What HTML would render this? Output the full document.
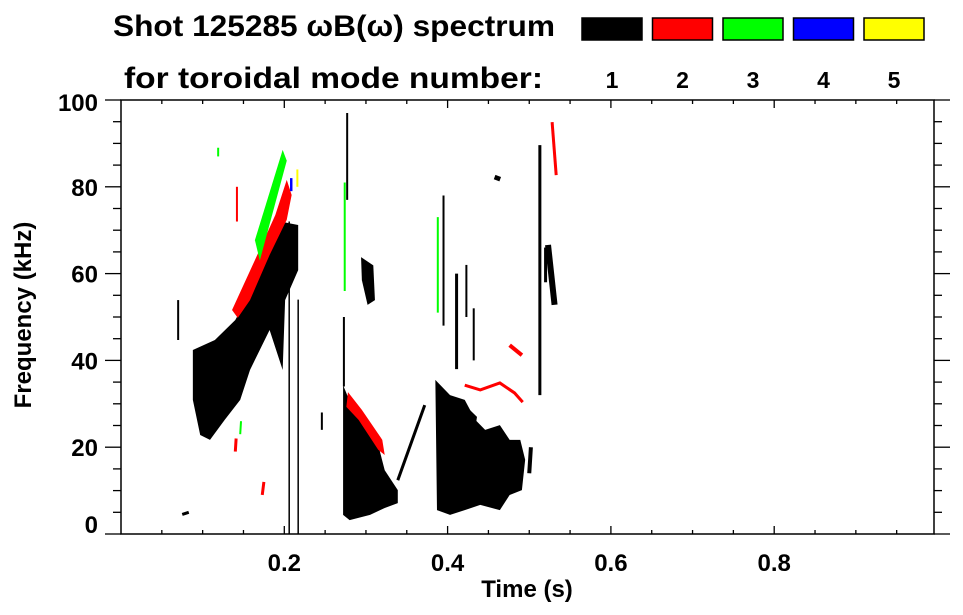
<!DOCTYPE html>
<html><head><meta charset="utf-8"><style>
html,body{margin:0;padding:0;background:#fff;}
svg{display:block;font-family:"Liberation Sans",sans-serif;font-weight:bold;}
</style></head><body>
<svg id="chart" width="963" height="615" viewBox="0 0 963 615" xmlns="http://www.w3.org/2000/svg">
<g>
<text x="113" y="36" font-size="30" textLength="442" lengthAdjust="spacingAndGlyphs">Shot 125285 ωB(ω) spectrum</text>
<text x="124" y="88" font-size="30" textLength="419" lengthAdjust="spacingAndGlyphs">for toroidal mode number:</text>
</g>
<g id="legend"></g>
<g id="marks"></g>
<g id="axes"></g>
<text x="527" y="597" font-size="24" text-anchor="middle">Time (s)</text>
<text transform="translate(31,315) rotate(-90)" font-size="24" text-anchor="middle">Frequency (kHz)</text>
</svg>
<script>
const modeNumbers = ["1","2","3","4","5"];
const modeColors = ["#000000","#ff0000","#00ff00","#0000ff","#ffff00"];
const xTicks = [0.2,0.4,0.6,0.8];
const xTickLabels = ["0.2","0.4","0.6","0.8"];
const yTicks = [0,20,40,60,80,100];
const yTickLabels = ["0","20","40","60","80","100"];
// blobs: [mode index, [[t,f],...]]
const blobMode = [0,1,2,0,0,1,0,0,3];
const blobPoints = [
 [[.088,42.4],[.115,44.7],[.140,49.3],[.170,59.7],[.198,71.9],[.217,71.2],[.217,60.8],[.201,53.9],[.198,37.8],[.182,47.0],[.158,37.8],[.146,30.9],[.127,26.3],[.109,21.7],[.097,22.8],[.088,30.9]],
 [[.136,51.6],[.164,63.1],[.189,73.5],[.203,81.6],[.209,78.1],[.203,72.4],[.182,64.3],[.158,53.9],[.143,49.8]],
 [[.164,67.7],[.198,88.5],[.203,86],[.170,63]],
 [[.272,34.3],[.287,27.4],[.305,24.0],[.315,20.5],[.323,14.7],[.339,10.1],[.339,7.1],[.323,6.0],[.305,4.4],[.280,3.2],[.272,4.4]],
 [[.294,63.8],[.309,61.9],[.311,53.9],[.302,52.8],[.295,58.5]],
 [[.278,32.7],[.295,28.6],[.320,21.7],[.323,18.2],[.315,19.4],[.291,26.3],[.276,29.3]],
 [[.385,35.5],[.403,32.0],[.421,30.9],[.434,26.3],[.446,24.0],[.464,25.1],[.476,21.7],[.489,21.7],[.495,17.1],[.491,10.1],[.476,9.0],[.464,5.5],[.440,6.7],[.421,5.5],[.403,4.4],[.387,5.5]],
 [[.412,30],[.425,29],[.436,27],[.432,22],[.418,24]],
 [[.207,82],[.210,82],[.210,79],[.207,79]]
];
// streaks: t1,f1,t2,f2,mode,width
const streakT1 = [.339,.513,.523,.528,.476,.070,.142,.206,.217,.274,.277,.388,.395,.411,.273,.246,.460,.119,.173,.146,.140,.075,.423,.432,.500,.216,.520];
const streakF1 = [12.4,89.6,66.6,94.9,43.5,44.7,72,0,0,56,77,51,48,38,34,24,81.5,87,9,23,19,4.5,50,40,14,80,58];
const streakT2 = [.372,.513,.531,.533,.491,.070,.142,.206,.217,.274,.277,.388,.395,.411,.273,.246,.462,.119,.175,.147,.141,.083,.423,.432,.502,.216,.520];
const streakF2 = [29.7,32.0,52.8,82.7,41.2,53.9,80,72,54,81,97,73,78,60,50,28,82.5,89,12,26,22,5,62,52,20,84,66];
const streakMode = [0,0,0,1,1,0,1,0,0,2,0,2,0,0,0,0,0,2,1,2,1,0,0,0,0,4,0];
const streakW = [3,3,6,3,4,2,2,1.5,1.5,2,2,2,2,3,2,2,6,2,3,2,3,3,2,2,4,2,3];
// red band over third burst
const redLineT = [.421,.440,.464,.482,.492];
const redLineF = [34.3,33.2,34.8,32.5,30.4];

const L=121,R=934,T=100,B=534;
const xs=t=>L+t*816.5;
const ys=f=>B-(f)*(B-T)/100;
const NS="http://www.w3.org/2000/svg";
function mk(tag,parent){const e=document.createElementNS(NS,tag);parent.appendChild(e);return e;}

const leg=document.getElementById('legend');
modeNumbers.forEach((m,i)=>{
  const x0=582+i*70.5;
  const r=mk('rect',leg);
  r.setAttribute('x',x0);r.setAttribute('y',18);r.setAttribute('width',60);r.setAttribute('height',22);
  r.setAttribute('fill',modeColors[i]);r.setAttribute('stroke','#000');r.setAttribute('stroke-width',1.5);
  
  
  const t=mk('text',leg);
  t.setAttribute('x',x0+30);t.setAttribute('y',88);t.setAttribute('font-size',23);t.setAttribute('text-anchor','middle');
  t.textContent=m;
  
  
});

const marks=document.getElementById('marks');
blobPoints.forEach((pts,i)=>{
  const p=mk('polygon',marks);
  p.setAttribute('points',pts.map(q=>xs(q[0])+','+ys(q[1])).join(' '));
  p.setAttribute('fill',modeColors[blobMode[i]]);
  
  
});
streakT1.forEach((t,i)=>{
  const l=mk('line',marks);
  l.setAttribute('x1',xs(t));l.setAttribute('y1',ys(streakF1[i]));
  l.setAttribute('x2',xs(streakT2[i]));l.setAttribute('y2',ys(streakF2[i]));
  l.setAttribute('stroke',modeColors[streakMode[i]]);l.setAttribute('stroke-width',streakW[i]);
  
  
});
const pl=mk('polyline',marks);
pl.setAttribute('points',redLineT.map((t,i)=>xs(t)+','+ys(redLineF[i])).join(' '));
pl.setAttribute('fill','none');pl.setAttribute('stroke',modeColors[1]);pl.setAttribute('stroke-width',3);



const ax=document.getElementById('axes');
const frame=mk('rect',ax);
frame.setAttribute('x',L);frame.setAttribute('y',T);frame.setAttribute('width',R-L);frame.setAttribute('height',B-T);
frame.setAttribute('fill','none');frame.setAttribute('stroke','#000');frame.setAttribute('stroke-width',1.5);


function tick(x1,y1,x2,y2){const l=mk('line',ax);l.setAttribute('x1',x1);l.setAttribute('y1',y1);l.setAttribute('x2',x2);l.setAttribute('y2',y2);l.setAttribute('stroke','#000');l.setAttribute('stroke-width',1.3);

}
for(let k=1;k<20;k++){const t=k*0.05;const x=xs(t);if(x>R)break;const maj=(k%4===0);
  tick(x,B,x,B-(maj?8:4));tick(x,T,x,T+(maj?8:4));}
for(let k=0;k<=20;k++){const y=ys(k*5);const maj=(k%4===0);
  tick(L,y,L-(maj?16:8),y);tick(R,y,R+(maj?16:8),y);}
xTicks.forEach((t,i)=>{const e=mk('text',ax);e.setAttribute('x',xs(t));e.setAttribute('y',571);e.setAttribute('font-size',24);e.setAttribute('text-anchor','middle');e.textContent=xTickLabels[i];

});
yTicks.forEach((f,i)=>{const e=mk('text',ax);let y=ys(f)+9;if(f===0)y=ys(f)-1;if(f===100)y=ys(f)+11;
e.setAttribute('x',98);e.setAttribute('y',y);e.setAttribute('font-size',24);e.setAttribute('text-anchor','end');e.textContent=yTickLabels[i];

});
</script>
</body></html>
